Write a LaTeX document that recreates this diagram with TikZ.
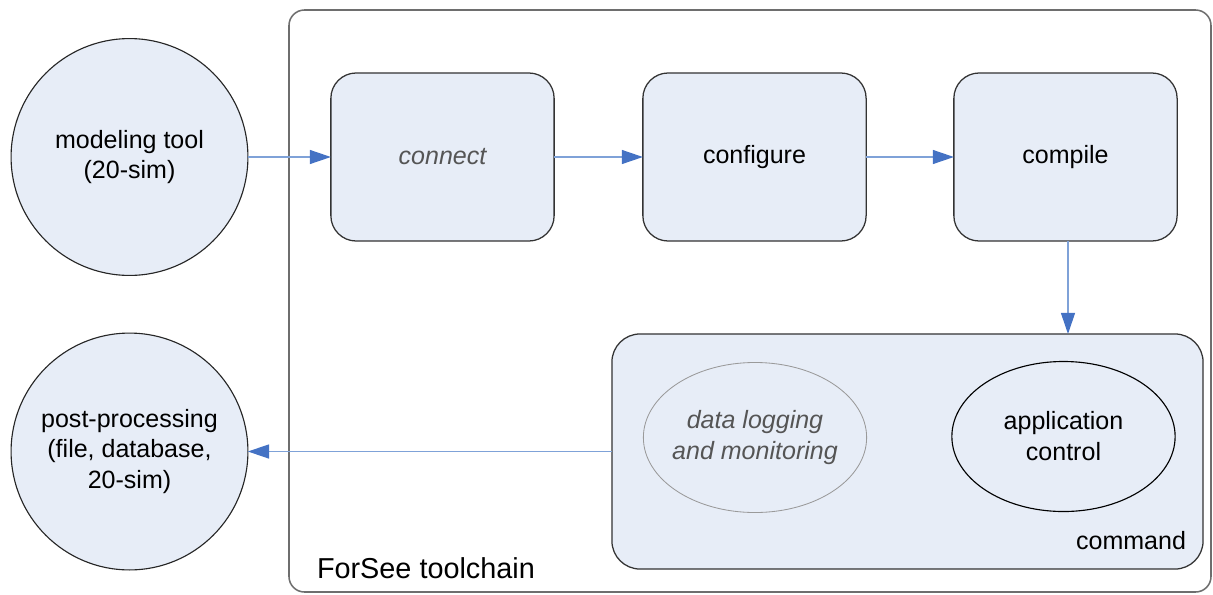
\documentclass[tikz,border=0pt]{standalone}
\usepackage{fontspec}
\setmainfont{Liberation Sans}
\usetikzlibrary{arrows.meta,shapes.geometric}
\definecolor{boxfill}{HTML}{E7EDF7}
\definecolor{flowblue}{HTML}{7FA2D8}
\definecolor{tipblue}{HTML}{4472C4}
\definecolor{framegray}{HTML}{6E6E6E}
\definecolor{softgray}{HTML}{9A9A9A}
\definecolor{mutedtext}{HTML}{555555}
\tikzset{
  lbl/.style={font=\fontsize{17.8}{22}\selectfont, align=center, inner sep=0pt, outer sep=0pt},
  ext/.style={lbl, circle, draw=black!85, line width=0.8pt, fill=boxfill, minimum size=5.92cm},
  stepbox/.style={lbl, rectangle, rounded corners=18pt, draw=black!80, line width=0.9pt, fill=boxfill,
                  minimum width=5.58cm, minimum height=4.2cm},
  part/.style={lbl, ellipse, inner sep=-8pt, fill=boxfill, minimum width=5.58cm, minimum height=3.75cm},
  flow/.style={draw=flowblue, line width=0.8pt, -{Triangle[length=15pt,width=10pt,color=tipblue,fill=tipblue]}},
}
\begin{document}
\begin{tikzpicture}[x=0.025cm, y=-0.025cm]
\useasboundingbox (0,0) rectangle (1213,594);

% toolchain frame
\draw[framegray, line width=1.1pt, rounded corners=11pt] (289,10) rectangle (1211,592);
\node[lbl, font=\fontsize{20.5}{24}\selectfont, anchor=west] (chainlbl) at (317,568) {ForSee toolchain};

% external tools
\node[ext] (model) at (129.5,157) {modeling tool\\(20-sim)};
\node[ext] (post) at (129.5,451.5) {post-processing\\(file, database,\\20-sim)};

% toolchain steps
\node[stepbox, text=mutedtext, font=\fontsize{17.8}{22}\selectfont\itshape] (connect) at (442.5,157) {connect};
\node[stepbox] (configure) at (754.5,157) {configure};
\node[stepbox] (compile) at (1065.5,157) {compile};

% command block
\node[lbl, rectangle, rounded corners=20pt, draw=black!80, line width=0.9pt, fill=boxfill,
      minimum width=14.775cm, minimum height=5.875cm] (cmd) at (907.5,451.5) {};
\node[lbl, anchor=east] (cmdlbl) at (1186,541) {command};
\node[part, draw=softgray, line width=0.6pt, text=mutedtext, font=\fontsize{17.8}{22}\selectfont\itshape]
  (logging) at (755,437.5) {data logging\\and monitoring};
\node[part, draw=black, line width=0.8pt] (appctl) at (1063.5,436.5) {application\\control};

% flow
\draw[flow] (model) -- (connect);
\draw[flow] (connect) -- (configure);
\draw[flow] (configure) -- (compile);
\draw[flow] ([xshift=2.5*0.025cm]compile.south) -- ([xshift=2.5*0.025cm]compile.south |- cmd.north);
\draw[flow] (cmd.west) -- (post.east);
\end{tikzpicture}
\end{document}
